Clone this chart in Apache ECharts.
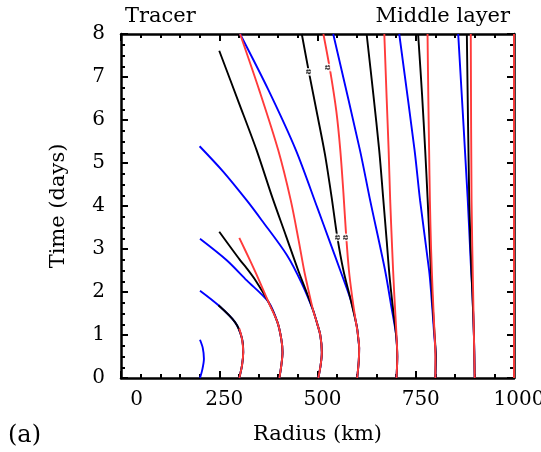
<!DOCTYPE html>
<html><head><meta charset="utf-8">
<script src="https://cdn.jsdelivr.net/npm/echarts@6/dist/echarts.min.js"></script>
<style>html,body{margin:0;padding:0;background:#fff}#c{width:541px;height:452px}</style>
</head><body><div id="c"></div>
<script>
// tick values
const xTicks = [0, 250, 500, 750, 1000];
const yTicks = [0, 1, 2, 3, 4, 5, 6, 7, 8];
// trajectories: [radius (km), time (days)]
const blue200 = [[201,0],[207,0.2],[211,0.45],[208,0.7],[201,0.89]];
const blue300 = [[301,0],[308,0.3],[311,0.6],[307,0.95],[290,1.3],[248,1.69],[201,2.03]];
const blue400 = [[403,0],[408,0.3],[411,0.6],[408,0.9],[398,1.3],[375,1.77],[320,2.27],[269,2.74],[201,3.24]];
const blue500 = [[502,0],[508,0.3],[511,0.6],[507,1.0],[498,1.3],[489,1.57],[460,2.2],[422,2.86],[358,3.67],[320,4.13],[260,4.8],[200,5.39]];
const blue600 = [[601,0],[605,0.4],[606,0.7],[604,0.9],[600,1.2],[585,1.8],[558,2.5],[530,3.2],[500,3.95],[445,5.3],[375,6.7],[303,8]];
const blue700 = [[701,0],[703,0.5],[700,1],[689,1.6],[672,2.5],[634,4.13],[608,5.3],[540,8]];
const blue800 = [[800,0],[801,0.5],[797,1],[789,2],[784,2.5],[761,4.13],[747,5.3],[708,8]];
const blue900 = [[900,0],[898,1],[894,2],[890,2.67],[882,4.2],[858,8]];
const black300 = [[301,0],[308,0.3],[311,0.6],[307,0.95],[290,1.3],[248,1.69]];
const black400 = [[403,0],[408,0.3],[411,0.6],[408,0.9],[398,1.3],[375,1.77],[340,2.3],[320,2.55],[303,2.74],[250,3.4]];
const black500 = [[502,0],[508,0.3],[511,0.6],[507,1.0],[498,1.3],[489,1.57],[472,2.0],[451,2.5],[420,3.3],[385,4.2],[345,5.3],[300,6.4],[250,7.61]];
const black600 = [[601,0],[605,0.4],[606,0.7],[604,0.9],[600,1.2],[585,1.8],[566,2.5],[550,3.3],[536,4.2],[519,5.2],[500,6.1],[478,7.12],[460,8]];
const black700 = [[701,0],[703,0.5],[700,1],[691,1.7],[683,2.4],[676,3.2],[667,4.2],[657,5.3],[642,6.6],[625,8]];
const black800 = [[800,0],[801,0.5],[798,1],[793,1.7],[789,2.4],[785,3.2],[780,4.2],[774,5.3],[766,6.6],[756,8]];
const black900 = [[900,0],[898,1],[894,2],[891,2.67],[886,4.2],[880,8]];
const red300 = [[301,0],[308,0.3],[311,0.6],[308,0.9],[301,1.15]];
const red400 = [[403,0],[408,0.3],[411,0.6],[408,0.9],[398,1.3],[375,1.77],[350,2.3],[328,2.74],[301,3.26]];
const red500 = [[502,0],[508,0.3],[511,0.6],[507,1.0],[498,1.3],[489,1.57],[478,2.0],[466,2.5],[452,3.2],[432,4.13],[400,5.3],[353,6.66],[303,8]];
const red600 = [[601,0],[605,0.4],[606,0.7],[603,1],[596,1.4],[588,1.9],[580,2.5],[573,3.3],[566,4.3],[558,5.3],[548,6.2],[532,7.16],[515,8]];
const red700 = [[701,0],[703,0.5],[701,1],[695,2],[690,3],[685,4.13],[681,5.3],[676,6.5],[670,8]];
const red800 = [[800,0],[800,0.5],[798,1],[793,2],[789,3],[786,4.13],[784,5.3],[782,6.5],[780,8]];
const red900 = [[900,0],[898,1],[896,2],[892,4.13],[890,8]];
const red1000 = [[1000,0],[1000,8]];
// small contour labels
const labelPoints = [[478,7.12],[527,7.22],[553,3.27],[572,3.27]];

const F = 'DejaVu Serif';
const BLUE = '#0000ff', BLACK = '#000000', RED = '#ff3b3b';
function line(data, color){
  return {type:'line', data:data, symbol:'none', showSymbol:false, smooth:0.3,
    clip:false, silent:true,
    lineStyle:{color:color, width:1.9}, itemStyle:{color:color}};
}
const blues = [blue200,blue300,blue400,blue500,blue600,blue700,blue800,blue900];
const blacks = [black300,black400,black500,black600,black700,black800,black900];
const reds = [red300,red400,red500,red600,red700,red800,red900,red1000];
const series = [];
blues.forEach(d=>series.push(line(d,BLUE)));
blacks.forEach(d=>series.push(line(d,BLACK)));
reds.forEach(d=>series.push(line(d,RED)));
series.push({type:'scatter', data:labelPoints, symbolSize:0, silent:true, z:5,
  label:{show:true, position:'inside', formatter:'8', rotate:90, fontSize:8, fontWeight:'bold',
    fontFamily:F, color:'#000', backgroundColor:'#fff', padding:[0,1]}});

const axisLineStyle = {show:true, onZero:false, lineStyle:{color:'#000', width:2.5}};
function xAxis(pos, showLabel){
  return {type:'value', min:xTicks[0], max:xTicks[xTicks.length-1], interval:xTicks[1]-xTicks[0],
    position:pos, axisLine:axisLineStyle,
    axisTick:{show:true, inside:true, length:7, lineStyle:{color:'#000', width:2}},
    minorTick:{show:true, splitNumber:5, length:4, lineStyle:{color:'#000', width:2}},
    splitLine:{show:false}, minorSplitLine:{show:false},
    axisLabel:{show:showLabel, margin:12, color:'#000', hideOverlap:false,
      formatter:function(v){ return v===0 ? '{z|0}' : '{n|'+v+'}'; },
      rich:{z:{padding:[0,0,0,31], fontFamily:F, fontSize:20, color:'#000'},
            n:{padding:[0,0,0,10], fontFamily:F, fontSize:20, color:'#000'}}},
    name: showLabel ? 'Radius (km)' : '', nameLocation:'middle', nameGap:46,
    nameTextStyle:{fontFamily:F, fontSize:21, color:'#000'}};
}
function yAxis(pos, showLabel){
  return {type:'value', min:yTicks[0], max:yTicks[yTicks.length-1], interval:yTicks[1]-yTicks[0],
    position:pos, axisLine:axisLineStyle,
    axisTick:{show:true, inside:true, length:7, lineStyle:{color:'#000', width:2}},
    minorTick:{show:true, splitNumber:4, length:4, lineStyle:{color:'#000', width:2}},
    splitLine:{show:false}, minorSplitLine:{show:false},
    axisLabel:{show:showLabel, margin:16, fontFamily:F, fontSize:20, color:'#000'},
    name: showLabel ? 'Time (days)' : '', nameLocation:'middle', nameGap:52, nameRotate:90,
    nameTextStyle:{fontFamily:F, fontSize:21, color:'#000'}};
}
const chart = echarts.init(document.getElementById('c'));
chart.setOption({
  animation:false,
  backgroundColor:'#fff',
  grid:{left:121, right:27, top:34, bottom:74, containLabel:false, outerBoundsMode:'none'},
  xAxis:[xAxis('bottom', true), xAxis('top', false)],
  yAxis:[yAxis('left', true), yAxis('right', false)],
  graphic:[
    {type:'text', left:125, top:6, style:{text:'Tracer', font:'21px "DejaVu Serif"', fill:'#000'}},
    {type:'text', right:31, top:6, style:{text:'Middle layer', font:'21px "DejaVu Serif"', fill:'#000'}},
    {type:'text', left:8, top:424, style:{text:'(a)', font:'24px "DejaVu Serif"', fill:'#000'}}
  ],
  series:series
});
</script></body></html>
